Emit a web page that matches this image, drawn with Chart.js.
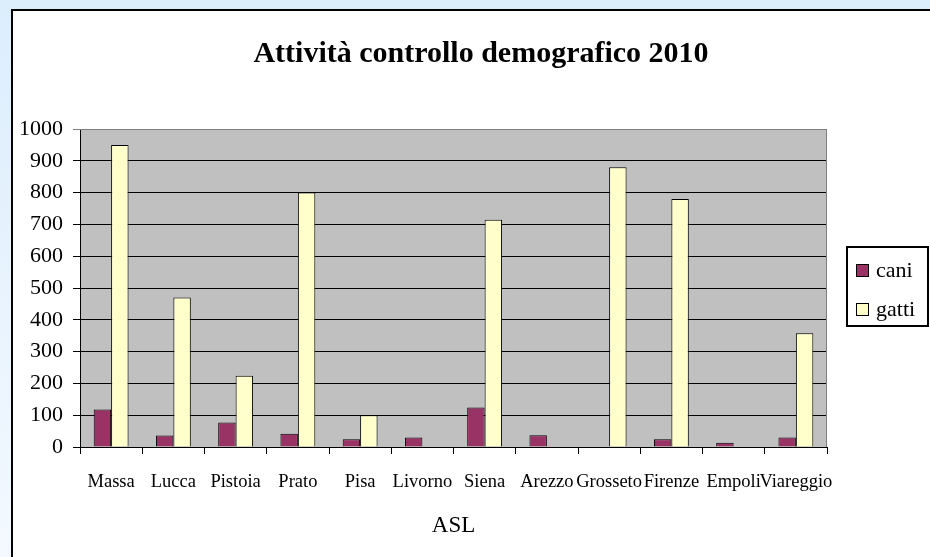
<!DOCTYPE html>
<html>
<head>
<meta charset="utf-8">
<script src="https://cdn.jsdelivr.net/npm/chart.js@4"></script>
<style>
html, body { margin: 0; padding: 0; overflow: hidden; }
body { width: 930px; height: 557px; position: relative; background: linear-gradient(#dcedfc, #f3f9ff); }
#panel { position: absolute; left: 11px; top: 9px; width: 950px; height: 570px; border: 2px solid #000; background: #fff; }
#c { position: absolute; left: 0; top: 0; }
</style>
</head>
<body>
<div id="panel"></div>
<canvas id="c" width="930" height="557"></canvas>
<script>
// dati
const asl = ["Massa", "Lucca", "Pistoia", "Prato", "Pisa", "Livorno", "Siena", "Arezzo", "Grosseto", "Firenze", "Empoli", "Viareggio"];
const cani = [118, 36, 77, 42, 24, 30, 124, 37, 0, 24, 13, 30];
const gatti = [950, 470, 224, 800, 100, 0, 715, 0, 880, 780, 0, 358];
const seriesNames = ["cani", "gatti"];
const yMax = 1000;
const yStep = 100;

const serif = "'Liberation Serif', 'Times New Roman', serif";

// sfondo grigio dell'area del grafico
const plotBg = {
    id: "plotBg",
    beforeDraw(chart) {
        const { ctx, chartArea: a } = chart;
        ctx.save();
        ctx.fillStyle = "#c0c0c0";
        ctx.fillRect(a.left, a.top, a.right - a.left, a.bottom - a.top);
        ctx.restore();
    },
    afterDatasetsDraw(chart) {
        const { ctx, chartArea: a } = chart;
        ctx.save();
        ctx.strokeStyle = "#808080";
        ctx.lineWidth = 1;
        ctx.beginPath();
        ctx.moveTo(a.left, a.top + 0.5);
        ctx.lineTo(a.right - 0.5, a.top + 0.5);
        ctx.lineTo(a.right - 0.5, a.bottom);
        ctx.stroke();
        ctx.restore();
    }
};

// titolo e legenda come in Excel
const titleAndLegend = {
    id: "titleAndLegend",
    afterDraw(chart) {
        const ctx = chart.ctx;
        ctx.save();
        ctx.fillStyle = "#000";
        ctx.font = "bold 30px " + serif;
        ctx.textAlign = "center";
        ctx.textBaseline = "middle";
        ctx.fillText("Attività controllo demografico 2010", 481, 54);

        ctx.strokeStyle = "#000";
        ctx.lineWidth = 2;
        ctx.strokeRect(847, 247, 81, 79);
        ctx.font = "22px " + serif;
        ctx.textAlign = "left";
        ctx.lineWidth = 1;
        chart.data.datasets.forEach((ds, i) => {
            const y = 270 + i * 39;
            ctx.fillStyle = ds.backgroundColor;
            ctx.fillRect(856, y - 6, 13, 13);
            ctx.strokeRect(856.5, y - 5.5, 12, 12);
            ctx.fillStyle = "#000";
            ctx.fillText(ds.label, 876, y + 1);
        });
        ctx.restore();
    }
};

new Chart(document.getElementById("c"), {
    type: "bar",
    data: {
        labels: asl,
        datasets: [{
            label: seriesNames[0],
            data: cani,
            backgroundColor: "#993366",
            borderColor: "#000",
            borderWidth: 1
        }, {
            label: seriesNames[1],
            data: gatti,
            backgroundColor: "#ffffcc",
            borderColor: "#000",
            borderWidth: 1
        }]
    },
    options: {
        responsive: false,
        animation: false,
        categoryPercentage: 0.56,
        barPercentage: 1,
        layout: { padding: { top: 129, right: 103, left: 0, bottom: 0 } },
        plugins: {
            legend: { display: false },
            title: { display: false },
            tooltip: { enabled: false }
        },
        scales: {
            x: {
                grid: { drawOnChartArea: false, color: "#000", tickLength: 7, offset: true },
                border: { color: "#000", width: 1 },
                ticks: {
                    color: "#000",
                    font: { family: serif, size: 18.5 },
                    padding: 17,
                    maxRotation: 0,
                    autoSkip: false
                },
                title: {
                    display: true,
                    text: "ASL",
                    color: "#000",
                    font: { family: serif, size: 23 },
                    padding: { top: 0, bottom: 17 }
                },
                afterFit(scale) { scale.height = 110; }
            },
            y: {
                min: 0,
                max: yMax,
                ticks: {
                    stepSize: yStep,
                    color: "#000",
                    font: { family: serif, size: 22 },
                    padding: 10,
                    callback: (v) => String(v)
                },
                grid: {
                    color: (c) => (c.tick && c.tick.value === yMax ? "#808080" : "#000"),
                    tickLength: 7
                },
                border: { color: "#000", width: 1 },
                afterFit(scale) { scale.width = 80; }
            }
        }
    },
    plugins: [plotBg, titleAndLegend]
});
</script>
</body>
</html>
